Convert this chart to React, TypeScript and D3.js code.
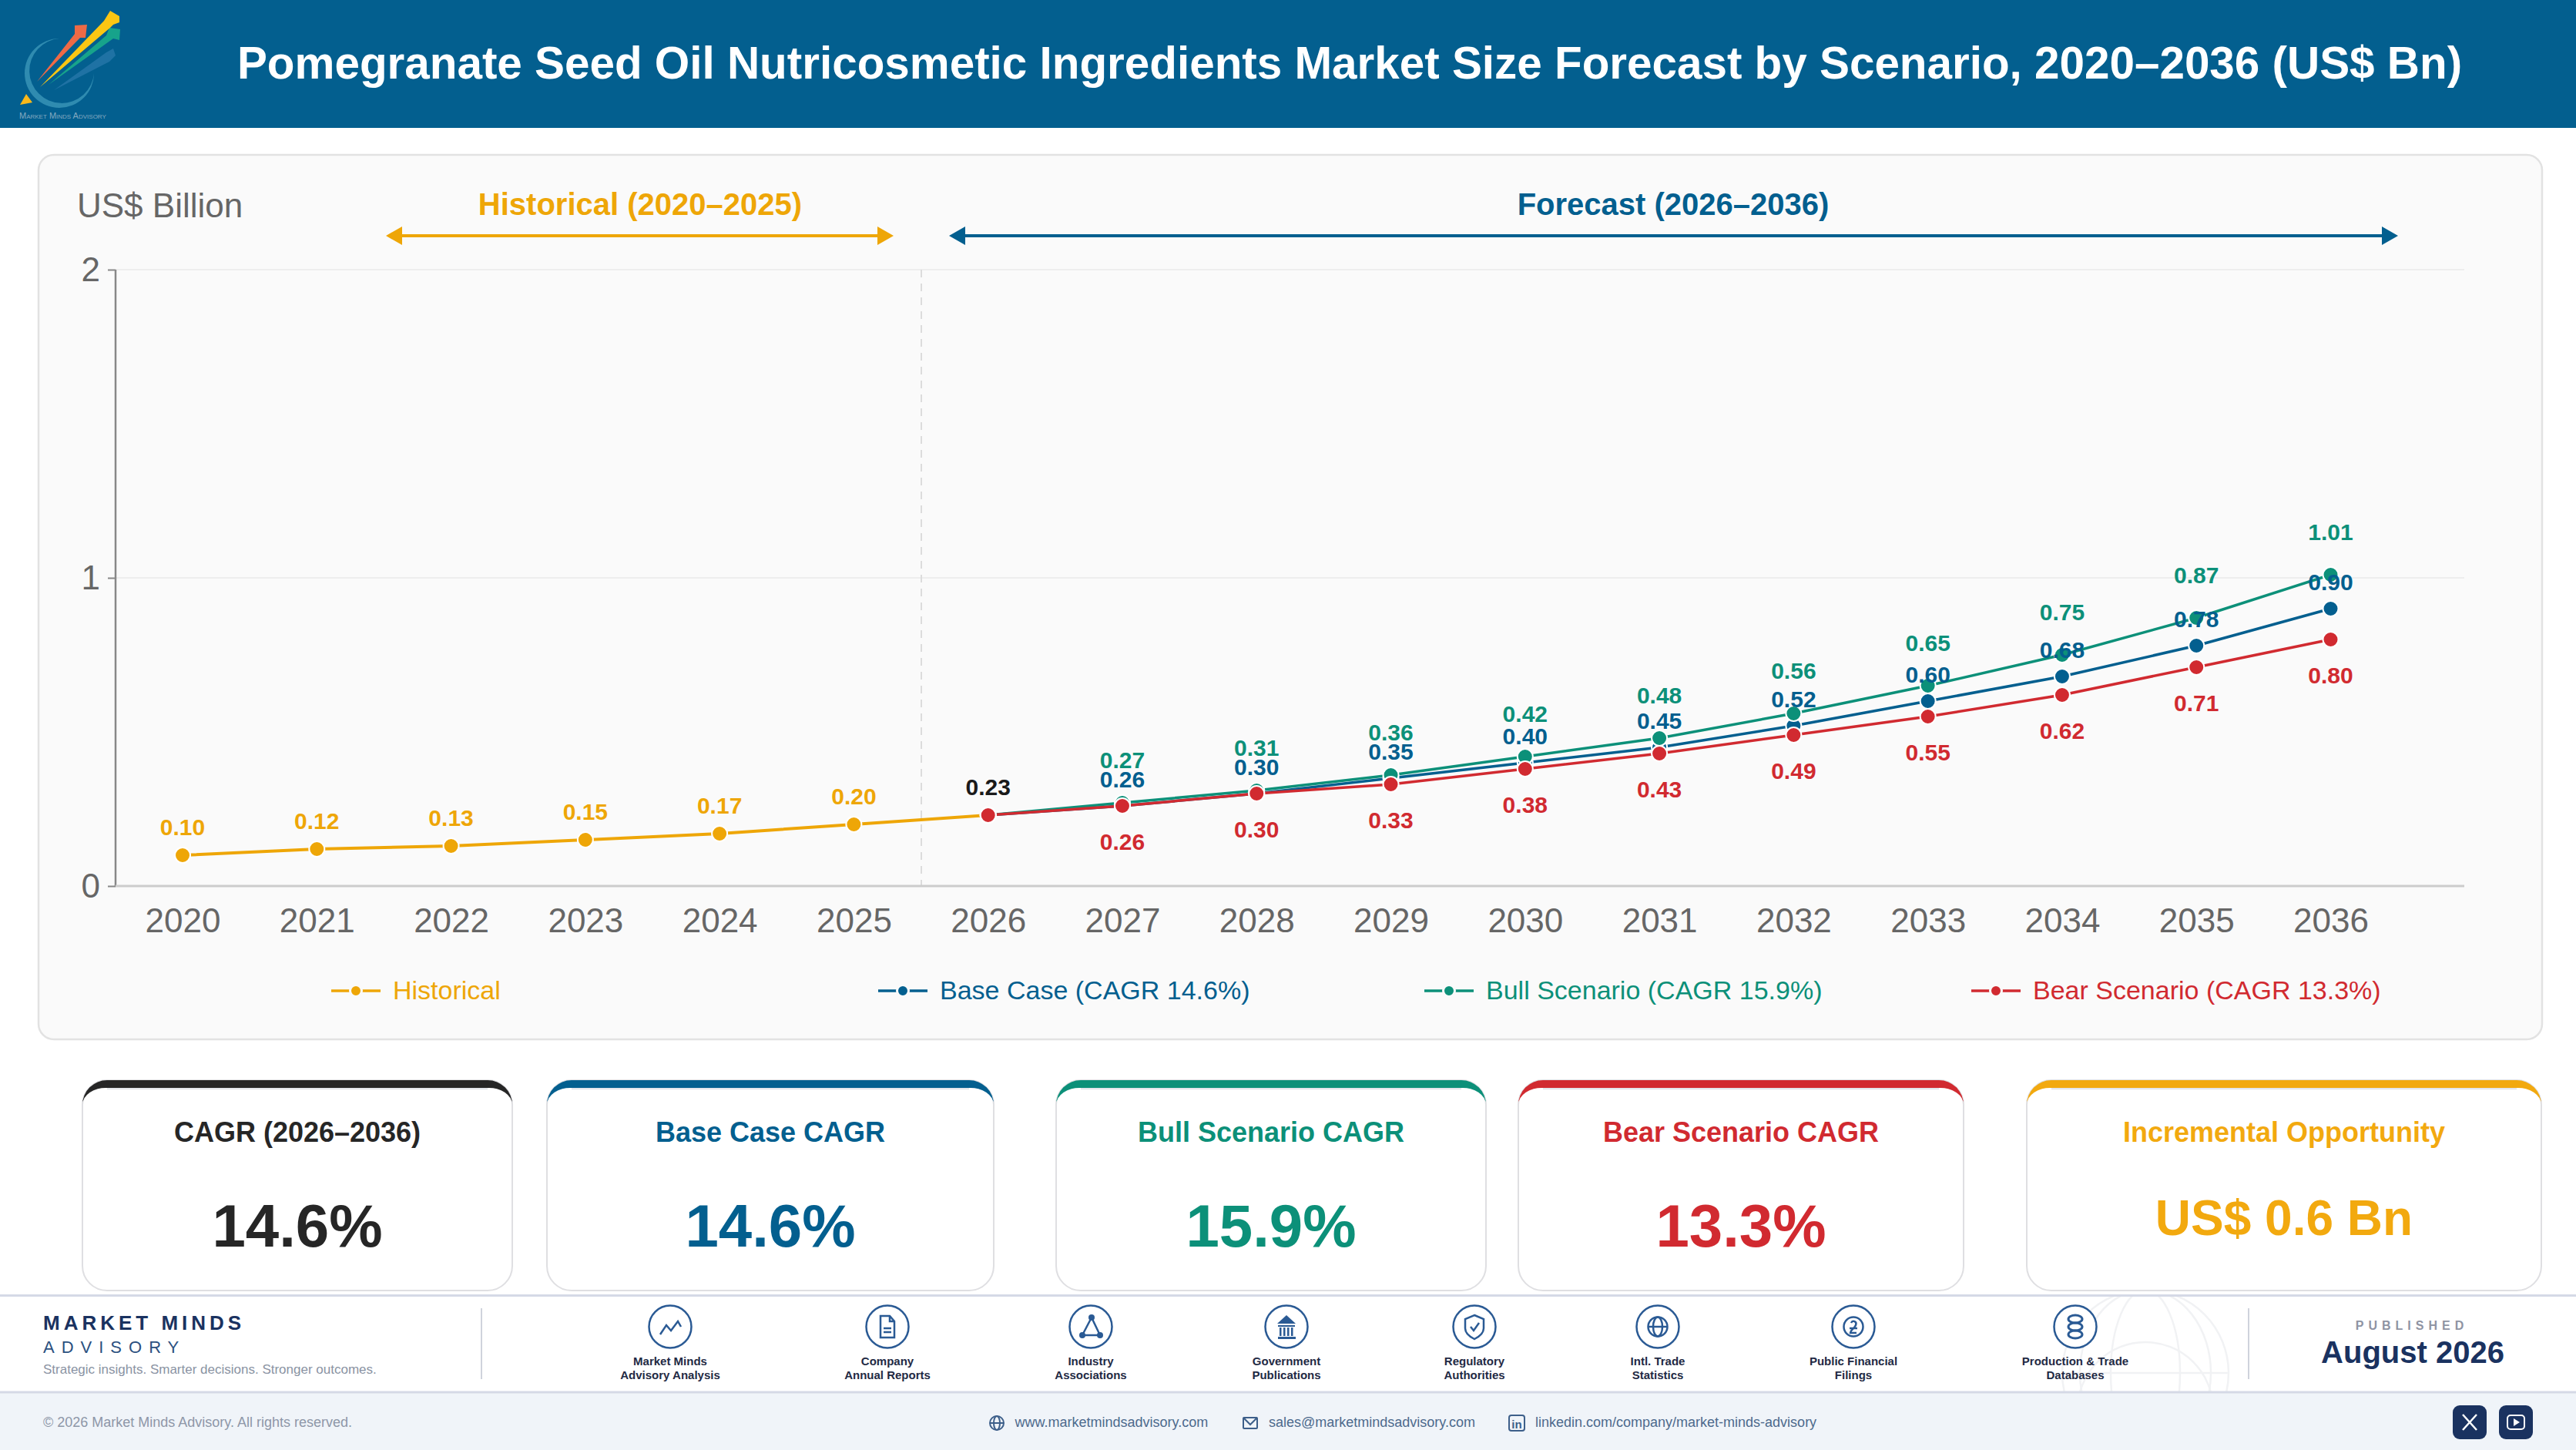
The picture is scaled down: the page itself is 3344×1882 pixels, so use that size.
import React, { useEffect, useRef } from 'react'
import * as d3 from 'd3'

const years = ['2020','2021','2022','2023','2024','2025','2026','2027','2028','2029','2030','2031','2032','2033','2034','2035','2036']
const historical = [0.10, 0.12, 0.13, 0.15, 0.17, 0.20, 0.23]
const baseCase = [0.23, 0.26, 0.30, 0.35, 0.40, 0.45, 0.52, 0.60, 0.68, 0.78, 0.90]
const bullCase = [0.23, 0.27, 0.31, 0.36, 0.42, 0.48, 0.56, 0.65, 0.75, 0.87, 1.01]
const bearCase = [0.23, 0.26, 0.30, 0.33, 0.38, 0.43, 0.49, 0.55, 0.62, 0.71, 0.80]
const yTicks = [0, 1, 2]

const AMBER = '#eea607'
const BLUE = '#035f8f'
const TEAL = '#0c9079'
const RED = '#d12a30'
const NAVY = '#1a3260'
const FONT = '"Liberation Sans", Arial, sans-serif'

const legendItems = [
  { label: 'Historical', color: AMBER, x: 430 },
  { label: 'Base Case (CAGR 14.6%)', color: BLUE, x: 1140 },
  { label: 'Bull Scenario (CAGR 15.9%)', color: TEAL, x: 1849 },
  { label: 'Bear Scenario (CAGR 13.3%)', color: RED, x: 2559 },
]

const kpiCards = [
  { title: 'CAGR (2026–2036)', value: '14.6%', color: '#262626', x0: 107, x1: 665 },
  { title: 'Base Case CAGR', value: '14.6%', color: BLUE, x0: 710, x1: 1290 },
  { title: 'Bull Scenario CAGR', value: '15.9%', color: TEAL, x0: 1371, x1: 1929 },
  { title: 'Bear Scenario CAGR', value: '13.3%', color: RED, x0: 1971, x1: 2549 },
  { title: 'Incremental Opportunity', value: 'US$ 0.6 Bn', color: '#f2a90f', x0: 2631, x1: 3299 },
]

const sources = [
  { lines: ['Market Minds', 'Advisory Analysis'], x: 870, icon: 'chart' },
  { lines: ['Company', 'Annual Reports'], x: 1152, icon: 'doc' },
  { lines: ['Industry', 'Associations'], x: 1416, icon: 'network' },
  { lines: ['Government', 'Publications'], x: 1670, icon: 'bank' },
  { lines: ['Regulatory', 'Authorities'], x: 1914, icon: 'shield' },
  { lines: ['Intl. Trade', 'Statistics'], x: 2152, icon: 'globe' },
  { lines: ['Public Financial', 'Filings'], x: 2406, icon: 'coin' },
  { lines: ['Production & Trade', 'Databases'], x: 2694, icon: 'db' },
]

const x = d3.scalePoint<string>().domain(years).range([237, 3025.5])
const y = d3.scaleLinear().domain([0, 2]).range([1150, 350])
const PLOT_LEFT = 150
const PLOT_RIGHT = 3199

const line = d3
  .line<[string, number]>()
  .x(d => x(d[0]) as number)
  .y(d => y(d[1]))

const histPairs = historical.map((v, i) => [years[i], v] as [string, number])
const forecastYears = years.slice(6)
const pairs = (vals: number[]) => vals.map((v, i) => [forecastYears[i], v] as [string, number])

// draw order matters, the red one ends up on top at 2026
const forecastSeries = [
  { name: 'base', vals: baseCase, color: BLUE, dy: -24 },
  { name: 'bull', vals: bullCase, color: TEAL, dy: -45 },
  { name: 'bear', vals: bearCase, color: RED, dy: 57 },
]

const Icon = ({ kind }: { kind: string }) => {
  const c = '#2a5a94'
  const s = { fill: 'none', stroke: c, strokeWidth: 2.5 }
  if (kind === 'chart') return <path d="M-13,10 L-5,-2 L1,5 L10,-7 L14,0" {...s} />
  if (kind === 'doc')
    return (
      <g {...s}>
        <path d="M-9,-14 H3 L9,-7 V14 H-9 Z" />
        <path d="M3,-14 V-7 H9 M-5,2 H5 M-5,7 H5" />
      </g>
    )
  if (kind === 'network')
    return (
      <g>
        <path d="M1,-12 L-11,11 H12 Z" {...s} />
        <circle cx={1} cy={-12} r={4} fill={c} />
        <circle cx={-11} cy={11} r={4} fill={c} />
        <circle cx={12} cy={11} r={4} fill={c} />
      </g>
    )
  if (kind === 'bank')
    return (
      <g fill={c}>
        <path d="M0,-15 L12,-4 H-12 Z" />
        <path d="M-11,-2 H11 V0 H-11 Z M-11,13 H12 V16 H-11 Z" />
        {[-9, -4, 1, 6].map(d => <rect key={d} x={d} y={1} width={2.5} height={11} />)}
      </g>
    )
  if (kind === 'shield')
    return (
      <g {...s}>
        <path d="M0,-15 L12,-10 V2 C12,9 6,13 0,16 C-6,13 -12,9 -12,2 V-10 Z" />
        <path d="M-5,0 L-1,5 L6,-5" />
      </g>
    )
  if (kind === 'globe')
    return (
      <g {...s}>
        <circle r={12.5} />
        <ellipse rx={6} ry={12.5} />
        <path d="M-12.5,0 H12.5" />
      </g>
    )
  if (kind === 'coin')
    return (
      <g {...s}>
        <circle r={12.5} />
        <path d="M-3,-5 C-1,-9 5,-7 3,-2 C1,3 -4,4 -4,8 H4 M-5,2 H5" />
      </g>
    )
  return (
    <g {...s} strokeWidth={3}>
      <ellipse cy={-10} rx={9} ry={5} />
      <ellipse cy={0} rx={9} ry={5} />
      <ellipse cy={10} rx={9} ry={5} />
    </g>
  )
}

const Card = ({ c }: { c: (typeof kpiCards)[number] }) => {
  const top = 1402
  const bottom = 1675
  const r = 32
  const w = c.x1 - c.x0
  const crescent = `M${c.x0},${top + r} A${r},${r} 0 0 1 ${c.x0 + r},${top} H${c.x1 - r} A${r},${r} 0 0 1 ${c.x1},${top + r}
    A${r - 2},${r - 10} 0 0 0 ${c.x1 - r},${top + 10} H${c.x0 + r} A${r - 2},${r - 10} 0 0 0 ${c.x0},${top + r} Z`
  const isText = c.value.length > 6
  return (
    <g>
      <rect x={c.x0} y={top} width={w} height={bottom - top} rx={r} fill="#fff" stroke="#dfdfe2" strokeWidth={2} />
      <path d={`M${c.x0 + r},${top + 11} H${c.x1 - r}`} stroke="#e3e6ec" strokeWidth={2.5} />
      <path d={crescent} fill={c.color} />
      <text x={(c.x0 + c.x1) / 2} y={1482} textAnchor="middle" fontSize={36} fontWeight="bold" fill={c.color}>{c.title}</text>
      <text x={(c.x0 + c.x1) / 2} y={isText ? 1603 : 1618} textAnchor="middle" fontSize={isText ? 64 : 78} fontWeight="bold" fill={c.color}>{c.value}</text>
    </g>
  )
}

export default function App() {
  const yAxisRef = useRef<SVGGElement>(null)
  const xAxisRef = useRef<SVGGElement>(null)

  useEffect(() => {
    if (yAxisRef.current) {
      const g = d3.select(yAxisRef.current)
      g.call(d3.axisLeft(y).tickValues(yTicks).tickFormat(d3.format('d')).tickSize(10).tickPadding(10) as any)
      g.select('.domain').remove()
      g.selectAll('.tick line').attr('stroke', '#888').attr('stroke-width', 2)
      g.selectAll('.tick text').attr('fill', '#666').attr('font-size', 44).attr('font-family', FONT)
    }
    if (xAxisRef.current) {
      const g = d3.select(xAxisRef.current)
      g.call(d3.axisBottom(x).tickSize(0).tickPadding(29) as any)
      g.select('.domain').remove()
      g.selectAll('.tick text').attr('fill', '#666').attr('font-size', 44).attr('font-family', FONT)
    }
  }, [])

  return (
    <svg width={3344} height={1882} viewBox="0 0 3344 1882" fontFamily={FONT} style={{ position: 'absolute', left: 0, top: 0, display: 'block' }}>
      <rect width={3344} height={1882} fill="#fff" />

      {/* header */}
      <rect width={3344} height={166} fill="#035f8f" />
      <g>
        <path d="M77,50 A45,45 0 1 0 122,95 A42,42 0 1 1 77,50 Z" fill="#2f8bb0" />
        <path d="M70,117 L138,68 L147,63 L150,72 L142,80 Z" fill="#1f72a4" />
        <path d="M48,106 L97,44 L97,33 L113,32 L111,49 L104,49 Z" fill="#ee6a46" />
        <path d="M63,110 L138,46 L142,36 L156,38 L155,52 L147,50 Z" fill="#17a38b" />
        <path d="M52,113 L135,27 L143,14 L155,21 L155,29 L147,32 L143,36 Z" fill="#fbc613" />
        <path d="M26,136 L34,122 L42,133 Z" fill="#fbb81a" />
        <text x={25} y={154} fontSize={11} fill="#84a9c0" style={{ fontVariant: 'small-caps' }}>Market Minds Advisory</text>
      </g>
      <text x={1752} y={102} textAnchor="middle" fontSize={58.4} fontWeight="bold" fill="#fff">
        Pomegranate Seed Oil Nutricosmetic Ingredients Market Size Forecast by Scenario, 2020–2036 (US$ Bn)
      </text>

      {/* chart card */}
      <rect x={50} y={201} width={3250} height={1148} rx={20} fill="#fafafa" stroke="#e2e2e2" strokeWidth={2.5} />
      <text x={100} y={282} fontSize={44} fill="#666">US$ Billion</text>

      <text x={831} y={279} textAnchor="middle" fontSize={40} fontWeight="bold" fill={AMBER}>Historical (2020–2025)</text>
      <path d="M520,306 H1140" stroke={AMBER} strokeWidth={4} />
      <path d="M501,306 L522,294 V318 Z M1160,306 L1139,294 V318 Z" fill={AMBER} />
      <text x={2172} y={279} textAnchor="middle" fontSize={40} fontWeight="bold" fill={BLUE}>Forecast (2026–2036)</text>
      <path d="M1252,306 H3094" stroke={BLUE} strokeWidth={4} />
      <path d="M1232,306 L1253,294 V318 Z M3113,306 L3092,294 V318 Z" fill={BLUE} />

      {/* grid and axes */}
      {yTicks.filter(t => t > 0).map(t => (
        <line key={t} x1={PLOT_LEFT} x2={PLOT_RIGHT} y1={y(t)} y2={y(t)} stroke="#eeeeee" strokeWidth={2} />
      ))}
      <line x1={1196} x2={1196} y1={y(2)} y2={y(0)} stroke="#dcdcdc" strokeWidth={2} strokeDasharray="10 8" />
      <line x1={PLOT_LEFT} x2={PLOT_LEFT} y1={y(2)} y2={y(0)} stroke="#888" strokeWidth={2.5} />
      <line x1={PLOT_LEFT} x2={PLOT_RIGHT} y1={y(0)} y2={y(0)} stroke="#cccccc" strokeWidth={3} />
      <g ref={yAxisRef} transform={`translate(${PLOT_LEFT},0)`} />
      <g ref={xAxisRef} transform={`translate(0,${y(0)})`} />

      {/* lines */}
      <path d={line(histPairs) as string} fill="none" stroke={AMBER} strokeWidth={4} />
      {forecastSeries.map(s => (
        <path key={s.name} d={line(pairs(s.vals)) as string} fill="none" stroke={s.color} strokeWidth={3.5} />
      ))}
      {histPairs.slice(0, 6).map(d => (
        <circle key={d[0]} cx={x(d[0])} cy={y(d[1])} r={10} fill={AMBER} stroke="#fff" strokeWidth={2} />
      ))}
      {forecastSeries.map(s =>
        pairs(s.vals).map(d => (
          <circle key={s.name + d[0]} cx={x(d[0])} cy={y(d[1])} r={10} fill={s.color} stroke="#fff" strokeWidth={2} />
        ))
      )}

      {/* value labels */}
      <g fontSize={30} fontWeight="bold" textAnchor="middle">
        {histPairs.map((d, i) => (
          <text key={d[0]} x={x(d[0])} y={y(d[1]) - 26} fill={i === 6 ? '#1a1a1a' : AMBER}>{d[1].toFixed(2)}</text>
        ))}
        {forecastSeries.map(s =>
          pairs(s.vals).slice(1).map(d => (
            <text key={s.name + d[0]} x={x(d[0])} y={y(d[1]) + s.dy} fill={s.color}>{d[1].toFixed(2)}</text>
          ))
        )}
      </g>

      {/* legend */}
      {legendItems.map(l => (
        <g key={l.label}>
          <line x1={l.x} x2={l.x + 64} y1={1286} y2={1286} stroke={l.color} strokeWidth={3.5} />
          <circle cx={l.x + 32} cy={1286} r={7.5} fill={l.color} stroke="#fafafa" strokeWidth={3} />
          <text x={l.x + 80} y={1297} fontSize={34} fill={l.color}>{l.label}</text>
        </g>
      ))}

      {/* kpi cards */}
      {kpiCards.map(c => <Card key={c.title} c={c} />)}

      {/* footer */}
      <g fill="none" stroke="#f1f2f4" strokeWidth={2.5}>
        <clipPath id="globeClip"><rect x={2600} y={1682} width={400} height={124} /></clipPath>
        <g clipPath="url(#globeClip)">
          <circle cx={2785} cy={1782} r={108} />
          <ellipse cx={2785} cy={1782} rx={45} ry={108} />
          <ellipse cx={2785} cy={1782} rx={85} ry={108} />
          <circle cx={2785} cy={1830} r={88} />
          <path d="M2677,1782 H2893" />
        </g>
      </g>
      <rect x={0} y={1807} width={3344} height={75} fill="#f0f4f9" />
      <rect x={0} y={1680} width={3344} height={3} fill="#d5d9e6" />
      <rect x={0} y={1805.5} width={3344} height={3} fill="#d5d9e6" />

      <text x={56} y={1726} fontSize={26} fontWeight="bold" fill={NAVY} letterSpacing={5}>MARKET MINDS</text>
      <text x={56} y={1756} fontSize={22} fill="#2b5080" letterSpacing={9}>ADVISORY</text>
      <text x={56} y={1783} fontSize={17} fill="#8a93a3">Strategic insights. Smarter decisions. Stronger outcomes.</text>
      <line x1={625} x2={625} y1={1698} y2={1790} stroke="#cfd3dc" strokeWidth={2} />

      {sources.map(s => (
        <g key={s.x}>
          <circle cx={s.x} cy={1722} r={27.5} fill="#fff" stroke="#2a5a94" strokeWidth={2.5} />
          <g transform={`translate(${s.x},1722)`}><Icon kind={s.icon} /></g>
          {s.lines.map((t, i) => (
            <text key={t} x={s.x} y={1772 + i * 18} textAnchor="middle" fontSize={15} fontWeight="bold" fill="#1f2a44">{t}</text>
          ))}
        </g>
      ))}

      <line x1={2919} x2={2919} y1={1698} y2={1790} stroke="#cfd3dc" strokeWidth={2} />
      <text x={3131} y={1726} textAnchor="middle" fontSize={16} fontWeight="bold" fill="#8f94a3" letterSpacing={6}>PUBLISHED</text>
      <text x={3132} y={1769} textAnchor="middle" fontSize={40} fontWeight="bold" fill={NAVY}>August 2026</text>

      <text x={56} y={1852} fontSize={18} fill="#8e97a8">© 2026 Market Minds Advisory. All rights reserved.</text>
      <g fontSize={18} fill="#4d6a8d">
        <text x={1317.5} y={1852}>www.marketmindsadvisory.com</text>
        <text x={1647} y={1852}>sales@marketmindsadvisory.com</text>
        <text x={1993} y={1852}>linkedin.com/company/market-minds-advisory</text>
      </g>
      <g fill="none" stroke="#3d5f8a" strokeWidth={2}>
        <g transform="translate(1294,1847)">
          <circle r={9} />
          <ellipse rx={4} ry={9} />
          <path d="M-9,0 H9" />
        </g>
        <g transform="translate(1623,1847)">
          <rect x={-9} y={-7} width={18} height={14} rx={1} />
          <path d="M-9,-7 L0,2 L9,-7" />
        </g>
        <rect x={1959} y={1837} width={20} height={20} rx={3} />
      </g>
      <text x={1969} y={1854} textAnchor="middle" fontSize={15} fontWeight="bold" fill="#3d5f8a">in</text>

      <rect x={3184} y={1824} width={44} height={44} rx={9} fill={NAVY} />
      <path d="M3197,1836 L3215,1856 M3215,1836 L3197,1856" stroke="#fff" strokeWidth={2.5} />
      <rect x={3244} y={1824} width={44} height={44} rx={9} fill={NAVY} />
      <rect x={3255} y={1837} width={22} height={18} rx={4} fill="none" stroke="#fff" strokeWidth={2} />
      <path d="M3263,1841 L3271,1846 L3263,1851 Z" fill="#fff" />
    </svg>
  )
}
